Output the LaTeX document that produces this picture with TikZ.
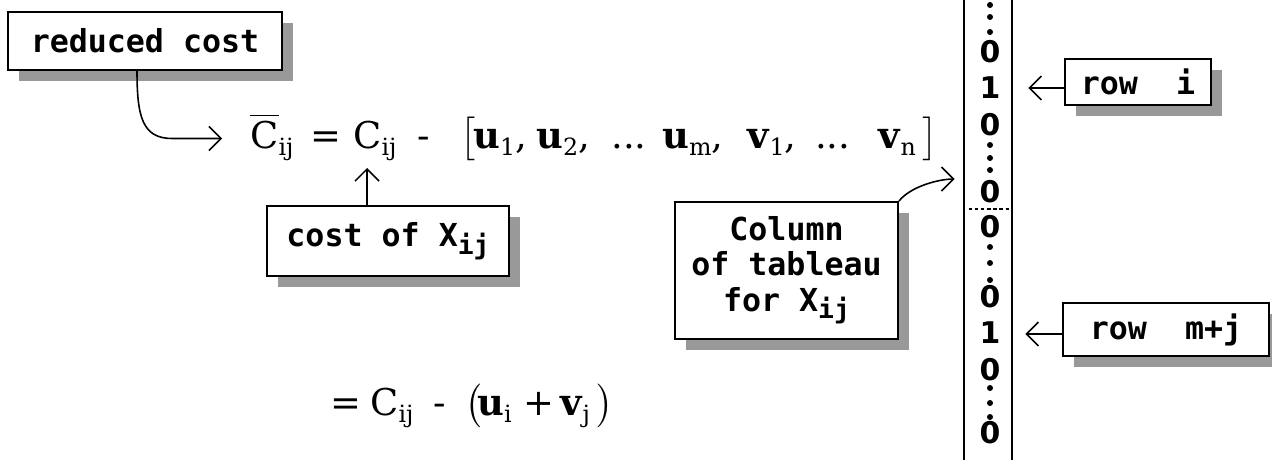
\documentclass[tikz,border=0pt]{standalone}
\usepackage{fontspec}
\usepackage{amsmath}
\usepackage{tikz}
\usetikzlibrary{arrows.meta, positioning, shadows}
\newfontfamily\chicago{DejaVu Sans Mono}
\newfontfamily\digitfont{DejaVu Sans}
\newfontfamily\eqfont{DejaVu Serif}
\newcommand{\Xij}{X\raisebox{-0.45ex}{\fontsize{15}{15}\selectfont ij}}
\newcommand{\low}[1]{\raisebox{-4.5pt}{\fontsize{13.5}{14}\selectfont #1}}
\newcommand{\eqpart}[2]{\makebox[#1][l]{#2}}
\tikzset{
  labelbox/.style={rectangle, draw=black, line width=1.1pt, fill=white,
    align=center, inner sep=0pt,
    font=\chicago\bfseries\fontsize{18}{20}\selectfont,
    drop shadow={shadow xshift=0.22cm, shadow yshift=-0.22cm,
      fill=black!40, opacity=1}},
  eqnode/.style={inner sep=0pt, anchor=base west,
    font=\eqfont\fontsize{21}{29}\selectfont},
  digit/.style={inner sep=0pt, font=\digitfont\bfseries\fontsize{17}{17}\selectfont},
  arrow/.style={-{Straight Barb[length=0.24cm, width=0.48cm]}, line width=0.9pt},
  colline/.style={line width=1.1pt}
}
\begin{document}
\begin{tikzpicture}[x=0.02cm, y=-0.02cm]
  \useasboundingbox (0,0) rectangle (1272,460);

  % Formulas
  \node[eqnode] (eq1) at (250,148)
    {\eqpart{1.2cm}{$\overline{\hbox{C}}$\low{ij}}\eqpart{0.86cm}{=}\eqpart{1.28cm}{C\low{ij}}%
     \eqpart{0.86cm}{-}\eqpart{0.26cm}{$\bigl[$}\eqpart{1.26cm}{\textbf{u}\low{1},}%
     \eqpart{1.5cm}{\textbf{u}\low{2},}\eqpart{1.02cm}{...}\eqpart{1.7cm}{\textbf{u}\low{m},}%
     \eqpart{1.36cm}{\textbf{v}\low{1},}\eqpart{1.26cm}{...}\eqpart{0.88cm}{\textbf{v}\low{n}}$\bigr]$};
  \node[eqnode] (eq2) at (330,415)
    {\eqpart{0.8cm}{=}\eqpart{1.26cm}{C\low{ij}}\eqpart{0.64cm}{-}\eqpart{0.24cm}{$\bigl($}%
     \eqpart{0.92cm}{\textbf{u}\low{i}}\eqpart{0.74cm}{+}\eqpart{0.72cm}{\textbf{v}\low{j}}$\bigr)$};

  % Labels
  \node[labelbox, minimum width=5.48cm, minimum height=1.16cm] (rc) at (145,41) {reduced cost};
  \node[labelbox, minimum width=4.84cm, minimum height=1.4cm] (cost) at (388,241) {cost of \Xij};
  \node[labelbox, minimum width=4.46cm, minimum height=2.74cm] (col) at (786.5,270.5)
    {Column\\of tableau\\for \Xij};
  \node[labelbox, minimum width=2.92cm, minimum height=0.92cm] (ri) at (1138,82) {row~~i};
  \node[labelbox, minimum width=4.12cm, minimum height=1.06cm] (rmj) at (1166,329.5) {row~~m+j};

  % Tableau column
  \node[minimum width=0.96cm, minimum height=9.2cm, inner sep=0pt] (tab) at (988,230) {};
  \draw[colline] (tab.north west) -- (tab.south west);
  \draw[colline] (tab.north east) -- (tab.south east);
  \foreach \y/\v in {52/0, 88/1, 125/0, 192/0, 227/0, 297/0, 333/1, 370/0, 433/0}
    \node[digit] (d\y) at (990,\y) {\v};
  \foreach \y in {5,17,32,145,158,170,247,263,280,388,403,417}
    \fill (990,\y) circle (0.06cm);
  \coordinate (cut) at (990,209);
  \draw[line width=0.6pt, dash pattern=on 2pt off 1.5pt]
    ([xshift=0.1cm]tab.west |- cut) -- (tab.east |- cut);

  % Arrows
  \draw[arrow] ([xshift=-0.16cm]rc.south) .. controls +(0,45) and +(-30,0)
    .. ([xshift=-1.56cm,yshift=0.19cm]eq1.base west) -- ([xshift=-0.56cm,yshift=0.19cm]eq1.base west);
  \draw[arrow] ([xshift=-0.42cm]cost.north) -- ([xshift=-0.42cm,yshift=-0.4cm]cost.north |- eq1.base west);
  \draw[arrow] (col.north east) .. controls +(12,-15) and +(-15,0)
    .. ([xshift=-0.18cm,yshift=0.44cm]tab.west |- col.north east);
  \draw[arrow] ([yshift=-0.12cm]ri.west) -- ([xshift=0.32cm,yshift=-0.12cm]tab.east |- ri.west);
  \draw[arrow] ([yshift=-0.09cm]rmj.west) -- ([xshift=0.26cm,yshift=-0.09cm]tab.east |- rmj.west);

\end{tikzpicture}
\end{document}
